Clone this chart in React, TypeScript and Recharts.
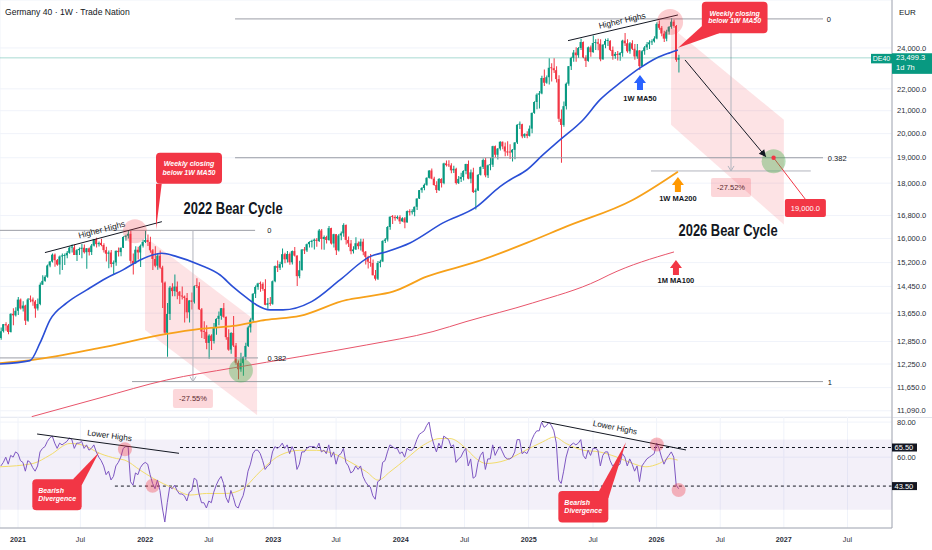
import React from "react";
import {
  Area,
  Bar,
  CartesianGrid,
  Cell,
  ComposedChart,
  Line,
  ReferenceArea,
  ReferenceDot,
  ReferenceLine,
  XAxis,
  YAxis,
} from "recharts";

const W = 932;
const PRICE_H = 417;
const RSI_H = 133;
const FONT = '"Liberation Sans", Arial, sans-serif';
const GREEN = "#089981";
const RED = "#f23645";
const AXIS_TEXT = "#2a2e39";
const AXIS_LINE = "#a3a6af";
const GRID = "#f0f3fa";
const FIB = "#9b9ea6";

// x is a week index: 0 = first week of January 2021
const FIRST_WEEK = -7;
const X_DOMAIN: [number, number] = [-7.36, 357.2];

const timeTicks = [0, 25.5, 52, 78, 104.3, 130, 156.4, 182.5, 208.7, 235, 261, 287, 313, 339];
const timeLabels = ["2021", "Jul", "2022", "Jul", "2023", "Jul", "2024", "Jul", "2025", "Jul", "2026", "Jul", "2027", "Jul"];

const priceTicks = [24000, 22000, 21000, 20000, 19000, 18000, 16800, 16000, 15200, 14450, 13650, 12850, 12250, 11650, 11090];
const rsiTicks = [60, 80];
const lastPrice = 23499.3;

// weekly candles [open, high, low, close]
const candles: [number, number, number, number][] = [
  // 2020
  [12950, 13240, 12900, 13137], [13137, 13340, 13100, 13335], [13335, 13390, 13150, 13299], [13299, 13340, 13050, 13114],
  [13114, 13650, 13100, 13631], [13631, 13790, 13300, 13587], [13587, 13820, 13550, 13719],
  // 2021
  [13719, 14130, 13600, 14050], [14050, 14080, 13760, 13788], [13788, 14000, 13700, 13873], [13873, 13900, 13310, 13433],
  [13433, 14100, 13400, 14056], [14056, 14170, 13970, 14050], [14050, 14110, 13870, 13993], [13993, 14040, 13520, 13786],
  [13786, 14080, 13730, 13920], [13920, 14570, 13880, 14502], [14502, 14800, 14500, 14621], [14621, 14800, 14590, 14749],
  [14749, 15140, 14720, 15107], [15107, 15250, 15050, 15234], [15234, 15500, 15200, 15460], [15460, 15500, 15070, 15280],
  [15280, 15320, 15100, 15136], [15136, 15430, 14820, 15400], [15400, 15500, 14960, 15417], [15417, 15500, 15120, 15437],
  [15437, 15580, 15340, 15520], [15520, 15730, 15490, 15693], [15693, 15800, 15530, 15700], [15700, 15800, 15450, 15448],
  [15448, 15650, 15250, 15608], [15608, 15700, 15450, 15650], [15650, 15810, 15340, 15689], [15689, 15800, 15500, 15540],
  [15540, 15680, 15000, 15670], [15670, 15700, 15430, 15544], [15544, 15810, 15450, 15761], [15761, 15980, 15730, 15977],
  [15977, 16030, 15700, 15808], [15808, 15900, 15730, 15852], [15852, 15990, 15740, 15781], [15781, 15840, 15530, 15609],
  [15609, 15720, 15240, 15490], [15490, 15600, 15020, 15531], [15531, 15610, 15050, 15156], [15156, 15270, 14820, 15206],
  [15206, 15600, 15100, 15587], [15587, 15700, 15400, 15543], [15543, 15700, 15410, 15688], [15688, 16080, 15680, 16054],
  [16054, 16130, 15920, 16094], [16094, 16290, 16000, 16160], [16160, 16260, 15160, 15257], [15257, 15500, 14820, 15170],
  [15170, 15740, 15170, 15623], [15623, 15720, 15300, 15532], [15532, 15800, 15060, 15756], [15756, 15960, 15700, 15885],
  // 2022
  [15885, 16285, 15850, 15947], [15947, 16140, 15750, 15883], [15883, 16060, 15520, 15603], [15603, 15650, 14960, 15318],
  [15318, 15740, 15050, 15100], [15100, 15500, 14970, 15425], [15425, 15600, 15000, 15042], [15042, 15100, 13800, 14567],
  [14567, 14600, 13030, 13094], [13094, 13950, 12440, 13628], [13628, 14460, 13450, 14413], [14413, 14550, 14150, 14306],
  [14306, 14820, 14150, 14446], [14446, 14600, 14060, 14284], [14284, 14310, 13920, 14164], [14164, 14450, 14050, 14142],
  [14142, 14170, 13380, 14098], [14098, 14250, 13500, 13674], [13674, 14030, 13380, 14027], [14027, 14260, 13760, 13982],
  [13982, 14480, 13930, 14462], [14462, 14700, 14400, 14460], [14460, 14580, 13740, 13762], [13762, 13800, 12950, 13126],
  [13126, 13420, 12920, 13118], [13118, 13300, 12640, 12813], [12813, 13050, 12390, 13015], [13015, 13050, 12620, 12865],
  [12865, 13370, 12800, 13254], [13254, 13500, 13040, 13484], [13484, 13700, 13300, 13574], [13574, 13800, 13460, 13795],
  [13795, 13950, 13520, 13544], [13544, 13550, 12900, 12971], [12971, 13190, 12600, 12630], [12630, 13110, 12520, 13088],
  [13088, 13570, 12700, 12741], [12741, 12810, 12230, 12284], [12284, 12340, 11860, 12114], [12114, 12550, 12050, 12273],
  [12273, 12450, 11950, 12438], [12438, 12820, 12360, 12731], [12731, 13290, 12700, 13243], [13243, 13500, 13100, 13460],
  [13460, 14250, 13380, 14225], [14225, 14480, 14100, 14431], [14431, 14560, 14350, 14541], [14541, 14600, 14290, 14529],
  [14529, 14580, 14320, 14371], [14371, 14670, 13880, 13894], [13894, 14100, 13780, 13941], [13941, 14130, 13870, 13924],
  // 2023
  [13924, 14630, 13900, 14610], [14610, 15110, 14580, 15087], [15087, 15270, 14900, 15033], [15033, 15230, 14960, 15150],
  [15150, 15660, 15040, 15476], [15476, 15520, 15180, 15307], [15307, 15580, 15200, 15482], [15482, 15530, 15130, 15210],
  [15210, 15600, 15140, 15578], [15578, 15710, 15400, 15428], [15428, 15440, 14460, 14768], [14768, 15260, 14700, 14957],
  [14957, 15650, 14950, 15629], [15629, 15710, 15480, 15598], [15598, 15830, 15550, 15808], [15808, 15910, 15700, 15882],
  [15882, 15960, 15700, 15922], [15922, 16000, 15630, 15961], [15961, 16020, 15720, 15914], [15914, 16330, 15880, 16275],
  [16275, 16330, 15630, 15984], [15984, 16100, 15620, 16051], [16051, 16090, 15830, 15949], [15949, 16430, 15920, 16358],
  [16358, 16370, 15800, 15830], [15830, 16160, 15700, 16148], [16148, 16150, 15450, 15603], [15603, 16150, 15560, 16105],
  [16105, 16240, 15940, 16177], [16177, 16530, 16060, 16469], [16469, 16480, 15800, 15952], [15952, 16070, 15710, 15832],
  [15832, 15950, 15470, 15574], [15574, 15740, 15500, 15632], [15632, 16040, 15610, 15840], [15840, 15900, 15640, 15740],
  [15740, 15990, 15600, 15894], [15894, 15990, 15440, 15557], [15557, 15580, 15140, 15387], [15387, 15420, 15010, 15229],
  [15229, 15480, 15070, 15187], [15187, 15300, 14790, 14798], [14798, 14960, 14630, 14687], [14687, 15250, 14650, 15189],
  [15189, 15290, 15050, 15234], [15234, 15940, 15230, 15919], [15919, 16020, 15850, 15967], [15967, 16430, 15900, 16397],
  [16397, 16780, 16300, 16759], [16759, 16820, 16500, 16751], [16751, 16810, 16620, 16706], [16706, 16800, 16670, 16752],
  // 2024
  [16752, 16810, 16500, 16594], [16594, 16740, 16580, 16704], [16704, 16750, 16350, 16555], [16555, 16980, 16550, 16961],
  [16961, 17030, 16800, 16918], [16918, 17030, 16840, 16926], [16926, 17130, 16780, 17117], [17117, 17430, 17000, 17419],
  [17419, 17740, 17400, 17735], [17735, 17850, 17640, 17815], [17815, 17990, 17730, 17936], [17936, 18230, 17900, 18206],
  [18206, 18500, 18180, 18492], [18492, 18570, 18150, 18175], [18175, 18250, 17900, 17930], [17930, 18070, 17630, 17737],
  [17737, 18200, 17700, 18161], [18161, 18190, 17830, 18001], [18001, 18800, 17960, 18773], [18773, 18890, 18650, 18704],
  [18704, 18900, 18630, 18693], [18693, 18780, 18380, 18498], [18498, 18680, 18390, 18557], [18557, 18600, 17950, 18002],
  [18002, 18280, 17970, 18164], [18164, 18400, 18040, 18235], [18235, 18500, 18100, 18475], [18475, 18760, 18340, 18748],
  [18748, 18890, 18150, 18172], [18172, 18530, 18000, 18418], [18418, 18600, 17630, 17661], [17661, 17800, 17020, 17723],
  [17723, 18350, 17700, 18322], [18322, 18650, 18300, 18633], [18633, 18970, 18550, 18907], [18907, 18990, 18230, 18302],
  [18302, 18730, 18200, 18699], [18699, 19000, 18500, 18720], [18720, 19490, 18630, 19474], [19474, 19500, 19020, 19121],
  [19121, 19400, 18930, 19374], [19374, 19680, 19300, 19657], [19657, 19670, 19350, 19464], [19464, 19630, 19060, 19255],
  [19255, 19680, 19080, 19216], [19216, 19550, 18950, 19211], [19211, 19360, 18850, 19323], [19323, 19650, 18940, 19626],
  [19626, 20400, 19560, 20384], [20384, 20520, 20200, 20405], [20405, 20430, 19800, 19884], [19884, 20020, 19810, 19985],
  [19985, 20100, 19800, 19906],
  // 2025
  [19906, 20350, 19880, 20214], [20214, 20920, 20020, 20903], [20903, 21430, 20870, 21394], [21394, 21800, 21070, 21732],
  [21732, 21900, 21100, 21787], [21787, 22620, 21750, 22514], [22514, 22930, 22130, 22287], [22287, 22630, 22240, 22551],
  [22551, 23480, 22200, 23009], [23009, 23230, 22350, 22987], [22987, 23480, 22760, 22892], [22892, 23080, 22300, 22461],
  [22461, 22650, 20500, 20642], [20642, 21050, 18800, 20374], [20374, 21420, 20300, 21205], [21205, 22300, 21050, 22242],
  [22242, 23100, 22150, 23087], [23087, 23550, 22900, 23499], [23499, 23900, 23300, 23767], [23767, 24030, 23300, 23630],
  [23630, 24050, 23500, 23997], [23997, 24480, 23900, 24304], [24304, 24330, 23480, 23516], [23516, 23630, 23050, 23350],
  [23350, 24080, 23300, 24033], [24033, 24130, 23550, 23787], [23787, 24640, 23750, 24255], [24255, 24450, 23900, 24290],
  [24290, 24480, 23880, 24217], [24217, 24450, 23330, 23426], [23426, 24200, 23400, 24163], [24163, 24470, 23980, 24359],
  [24359, 24500, 24100, 24363], [24363, 24400, 23850, 23902], [23902, 24070, 23400, 23597], [23597, 23800, 23450, 23698],
  [23698, 23850, 23370, 23639], [23639, 23800, 23350, 23739], [23739, 24420, 23550, 24378], [24378, 24770, 24100, 24241],
  [24241, 24450, 23750, 23830], [23830, 24300, 23700, 24240], [24240, 24400, 23900, 23958], [23958, 24200, 23400, 23569],
  [23569, 24200, 23450, 23876], [23876, 23900, 22900, 23091], [23091, 23900, 23050, 23836], [23836, 24100, 23650, 24028],
  [24028, 24300, 23900, 24186], [24186, 24400, 23950, 24288], [24288, 24450, 24150, 24340], [24340, 24600, 24280, 24490],
  // 2026
  [24490, 25350, 24450, 25260], [25260, 25450, 24950, 25050], [25050, 25150, 24600, 24750], [24750, 24900, 24300, 24480],
  [24480, 24950, 24350, 24850], [24850, 25150, 24700, 25100], [25100, 25580, 25000, 25380], [25380, 25500, 25050, 25150],
  [25150, 25200, 23300, 23400], [23400, 23650, 22780, 23499.3],
];

// weekly RSI, same weeks as the candles
const rsiValues = [
  55, 57, 60, 56, 61, 60, 63,
  62, 58, 57, 52, 58, 57, 54, 52, 55, 63,
  65, 66, 69, 71, 72, 68, 65, 68, 67, 68,
  69, 71, 70, 65, 68, 68, 69, 65, 67, 64,
  65, 67, 63, 60, 58, 55, 50, 52, 47, 49,
  55, 57, 60, 65, 66, 66, 46, 44, 51, 50,
  54, 56, 57, 56, 50, 45, 42, 47, 41, 31,
  23, 34, 43, 42, 44, 41, 39, 39, 38, 35,
  40, 41, 48, 47, 39, 34, 34, 31, 35, 34,
  40, 44, 47, 49, 45, 37, 34, 41, 37, 32,
  31, 35, 38, 44, 52, 56, 62, 64, 64, 62,
  58, 53, 55, 56, 63, 66, 65, 66, 68, 65,
  67, 62, 66, 63, 53, 56, 63, 63, 65, 66,
  66, 66, 65, 68, 63, 64, 62, 67, 60, 63,
  56, 61, 62, 65, 57, 55, 51, 52, 55, 53,
  55, 49, 46, 44, 43, 38, 36, 46, 47, 57,
  58, 63, 67, 66, 65, 65, 62, 63, 60, 65,
  64, 64, 66, 70, 73, 74, 75, 78, 80, 72,
  67, 63, 68, 65, 72, 71, 70, 66, 67, 57,
  59, 60, 63, 65, 55, 59, 48, 49, 57, 61,
  63, 53, 59, 59, 67, 61, 64, 66, 63, 60,
  59, 59, 60, 63, 70, 70, 62, 63, 62, 65,
  70, 73, 75, 75, 80, 77, 78, 80, 78, 75,
  68, 47, 45, 52, 60, 65, 67, 68, 67, 68,
  70, 61, 59, 64, 61, 65, 65, 64, 55, 61,
  63, 63, 58, 55, 56, 55, 56, 62, 60, 55,
  59, 56, 52, 55, 46, 55, 57, 59, 60, 61,
  62, 68, 65, 60, 56, 59, 61, 63, 60, 44,
  42,
];

// moving averages as [week, value]
const ma50Points: [number, number][] = [
  [-7.36, 12252], [4.9, 12339], [9, 12811], [13.1, 13455], [19.9, 13949], [28.1, 14342], [36.2, 14712],
  [42.9, 14966], [49.9, 15285], [56.7, 15482], [58.7, 15505], [64.9, 15395], [74.4, 15125], [82.6, 14805],
  [87.9, 14434], [93.5, 14100], [97.5, 13891], [103, 13745], [108.3, 13745], [120, 13990], [131.6, 14650],
  [143.8, 15395], [150.7, 15559], [160.2, 15850], [173.7, 16541], [187.5, 17124], [197, 17868], [201, 18122],
  [207.9, 18511], [214.5, 19114], [221.5, 19735], [230.9, 20592], [237.8, 21487], [246, 22277], [254.2, 23000],
  [261, 23494], [266.5, 23760], [269.7, 23898],
];
const ma200Points: [number, number][] = [
  [-7.36, 12272], [6.1, 12358], [33.5, 12677], [60.8, 13061], [74.4, 13200], [87.9, 13284], [101.3, 13455],
  [115.2, 13570], [134.4, 14040], [142.5, 14139], [153.2, 14290], [167, 14753], [187.5, 15230], [207.9, 15850],
  [224, 16409], [251.2, 17369], [269.7, 18446],
];
const ma100mPoints: [number, number][] = [
  [5.6, 10952], [33.5, 11398], [60.8, 11842], [87.9, 12149], [115.2, 12444], [142.5, 12758], [169.6, 13126],
  [183.1, 13406], [210.3, 13949], [237.4, 14650], [241.5, 14806], [268.1, 15549],
];
const rsiMaPoints: [number, number][] = [
  [-7.36, 54.5], [6.1, 56.4], [13, 61.1], [21.3, 67.8], [26.6, 66.8], [33.5, 62.1], [40.3, 59.2], [43.7, 58.3],
  [49.9, 52.6], [55.3, 47.9], [63.5, 42.2], [70.3, 38.4], [77.1, 39.3], [85.3, 39.3], [92.1, 42.2], [97.5, 49.7],
  [101.6, 55.4], [107.1, 61.1], [115.2, 63.9], [122, 63.9], [128.7, 62.1], [135.7, 57.3], [142.5, 51.6],
  [147.2, 46.9], [152, 51.6], [158.8, 59.2], [165.6, 66.8], [172.5, 70.6], [176.5, 70.6], [183.1, 64.9],
  [187.2, 59.2], [191.3, 56.4], [199.4, 58.3], [206.2, 63], [214.4, 68.7], [219.2, 71.5], [224, 67.8],
  [230.8, 64], [237.6, 63], [244.4, 60.2], [251.2, 56.4], [256.6, 54.5], [262.1, 56.4], [266.2, 59.2], [269.6, 58.3],
];

// bear-cycle channels: [week, lower, upper]
const channel2022: [number, number, number][] = [[51.9, 13170, 16060], [97.7, 10990, 13400]];
const channel2026: [number, number, number][] = [[266.9, 20380, 25100], [313, 16480, 20600]];

const priceData = candles.map(([o, h, l, c], i) => ({
  w: i + FIRST_WEEK,
  o,
  c,
  wick: [l, h],
  body: [Math.min(o, c), Math.max(o, c)],
}));
const rsiData = rsiValues.map((v, i) => ({ w: i + FIRST_WEEK, rsi: v }));
const toLine = (pts: [number, number][]) => pts.map(([w, v]) => ({ w, v }));
const toBand = (pts: [number, number, number][]) => pts.map(([w, lo, hi]) => ({ w, band: [lo, hi] }));

const fmtPrice = (v: number) => v.toLocaleString("en-US", { minimumFractionDigits: 1, maximumFractionDigits: 1 });

type Shape = (p: any) => React.ReactElement;

const label = (text: string, opts: { size?: number; weight?: number; anchor?: string; dy?: number; color?: string } = {}): Shape =>
  (p) => (
    <text x={p.cx} y={p.cy + (opts.dy ?? 3)} textAnchor={opts.anchor ?? "middle"} fontSize={opts.size ?? 7.5}
      fontWeight={opts.weight ?? 400} fill={opts.color ?? "#131722"} fontFamily={FONT}>{text}</text>
  );

const tiltedText = (text: string, angle: number, size: number): Shape => (p) => (
  <text x={p.cx} y={p.cy} transform={`rotate(${angle} ${p.cx} ${p.cy})`} textAnchor="middle"
    dominantBaseline="central" fontSize={size} fill="#131722" fontFamily={FONT}>{text}</text>
);

const bigTitle = (text: string): Shape => (p) => (
  <text x={p.cx} y={p.cy} textAnchor="middle" dominantBaseline="central" fontSize={16} fontWeight={700}
    textLength={99} lengthAdjust="spacingAndGlyphs" fill="#131722" fontFamily={FONT}>{text}</text>
);

const upArrow = (color: string, text: string, textDy: number): Shape => (p) => {
  const pts = [[0, 0], [6, 8], [3, 8], [3, 15], [-3, 15], [-3, 8], [-6, 8]]
    .map(([dx, dy]) => `${p.cx + dx},${p.cy + dy}`).join(" ");
  return (
    <g>
      <polygon points={pts} fill={color} />
      <text x={p.cx} y={p.cy + textDy} textAnchor="middle" fontSize={7.5} fontWeight={700} fill="#131722"
        fontFamily={FONT}>{text}</text>
    </g>
  );
};

const downHead = (color: string): Shape => (p) => (
  <polyline points={`${p.cx - 3},${p.cy - 5} ${p.cx},${p.cy} ${p.cx + 3},${p.cy - 5}`} fill="none" stroke={color} strokeWidth={1} />
);

const arrowHead = (angle: number): Shape => (p) => (
  <g transform={`translate(${p.cx},${p.cy}) rotate(${angle})`}>
    <polygon points="-7,-3.5 0,0 -7,3.5" fill="#131722" />
  </g>
);

const pctBox = (text: string): Shape => (p) => (
  <g>
    <rect x={p.cx - 20} y={p.cy - 9.5} width={40} height={19} rx={2} fill={RED} fillOpacity={0.2} />
    <text x={p.cx} y={p.cy + 2.7} textAnchor="middle" fontSize={7.5} fill="#5d2a2e" fontFamily={FONT}>{text}</text>
  </g>
);

const targetBox = (text: string): Shape => (p) => (
  <g>
    <rect x={p.cx - 20.5} y={p.cy - 9} width={41} height={18} rx={2} fill={RED} />
    <text x={p.cx} y={p.cy + 2.7} textAnchor="middle" fontSize={7.5} fill="#fff" fontFamily={FONT}>{text}</text>
  </g>
);

type Callout = {
  box: [number, number, number, number];
  tail: [number, number][];
  lines: string[];
  textX: number;
  textY: number[];
  anchor: "middle" | "start";
};

const callout = (c: Callout): Shape => (p) => {
  const pts = c.tail.map(([dx, dy]) => `${p.cx + dx},${p.cy + dy}`).join(" ");
  const [bx, by, bw, bh] = c.box;
  return (
    <g>
      <polygon points={pts} fill={RED} />
      <rect x={p.cx + bx} y={p.cy + by} width={bw} height={bh} rx={4} fill={RED} />
      {c.lines.map((t, i) => (
        <text key={t} x={p.cx + c.textX} y={p.cy + c.textY[i]} textAnchor={c.anchor} fontSize={7}
          fontWeight={700} fontStyle="italic" fill="#fff" fontFamily={FONT}>{t}</text>
      ))}
    </g>
  );
};

const closingBelow2022: Callout = {
  box: [0, -77, 66, 31], tail: [[0, 0], [0, -46], [5.7, -46]],
  lines: ["Weekly closing", "below 1W MA50"], textX: 33, textY: [-63.3, -54.6], anchor: "middle",
};
const closingBelow2026: Callout = {
  box: [23.7, -46, 65.7, 31.6], tail: [[0, 0], [25, -22.7], [41, -14.4]],
  lines: ["Weekly closing", "below 1W MA50"], textX: 56.5, textY: [-31.7, -24.3], anchor: "middle",
};
const divergence2021: Callout = {
  box: [-66.7, 27, 49.4, 31], tail: [[0, 0], [-26, 27], [-17.3, 33]],
  lines: ["Bearish", "Divergence"], textX: -60.7, textY: [40.7, 49], anchor: "start",
};
const divergence2025: Callout = {
  box: [-67.7, 48.7, 50, 31.6], tail: [[0, 0], [-27, 48.7], [-17.7, 56]],
  lines: ["Bearish", "Divergence"], textX: -61.7, textY: [62.7, 70.7], anchor: "start",
};

const lastPriceTag: Shape = (p) => (
  <g fontFamily={FONT}>
    <line x1={p.cx - 892} y1={p.cy} x2={p.cx} y2={p.cy} stroke={GREEN} strokeOpacity={0.35} strokeWidth={1} />
    <rect x={p.cx - 21} y={p.cy - 4} width={21} height={9.5} fill={GREEN} />
    <text x={p.cx - 10.5} y={p.cy + 3.3} textAnchor="middle" fontSize={7} fill="#fff">DE40</text>
    <rect x={p.cx} y={p.cy - 4.6} width={40} height={20.6} fill={GREEN} />
    <text x={p.cx + 4} y={p.cy + 2.6} fontSize={7.5} fill="#fff">{fmtPrice(lastPrice)}</text>
    <text x={p.cx + 4} y={p.cy + 12.4} fontSize={7.5} fill="#fff">1d 7h</text>
  </g>
);

const rsiLevelTag = (text: string): Shape => (p) => (
  <g fontFamily={FONT}>
    <rect x={p.cx} y={p.cy - 4} width={25} height={8} fill="#131722" />
    <text x={p.cx + 2.5} y={p.cy + 2.7} fontSize={7.5} fill="#fff">{text}</text>
  </g>
);

const TimeTick = (props: any) => {
  const { x, y, payload } = props;
  const i = timeTicks.indexOf(payload.value);
  const text = timeLabels[i] ?? "";
  const isYear = text !== "Jul";
  return (
    <text x={x} y={y + 13.6} textAnchor="middle" fontSize={7.2} fontWeight={isYear ? 700 : 400}
      fill={AXIS_TEXT} fontFamily={FONT}>{text}</text>
  );
};

function PriceChart() {
  return (
    <ComposedChart width={W} height={PRICE_H} data={priceData} margin={{ top: 0, right: 0, bottom: 0, left: 0 }}>
      <CartesianGrid stroke={GRID} />
      <XAxis dataKey="w" type="number" domain={X_DOMAIN} allowDataOverflow ticks={timeTicks} height={0}
        tick={false} axisLine={false} tickLine={false} />
      <XAxis xAxisId="wick" dataKey="w" type="number" domain={X_DOMAIN} allowDataOverflow hide />
      <XAxis xAxisId="aux" dataKey="w" type="number" domain={X_DOMAIN} allowDataOverflow hide />
      <YAxis orientation="right" scale="log" domain={[10944, 26578]} allowDataOverflow ticks={priceTicks}
        interval={0} width={40} tickFormatter={fmtPrice} tickLine={false} tickSize={0} tickMargin={5}
        tick={{ fontSize: 7.5, fill: AXIS_TEXT, fontFamily: FONT }} axisLine={{ stroke: AXIS_LINE }} />

      <Area xAxisId="aux" data={toBand(channel2022)} dataKey="band" type="linear" stroke="none" fill={RED}
        fillOpacity={0.14} dot={false} activeDot={false} isAnimationActive={false} />
      <Area xAxisId="aux" data={toBand(channel2026)} dataKey="band" type="linear" stroke="none" fill={RED}
        fillOpacity={0.14} dot={false} activeDot={false} isAnimationActive={false} />

      {/* fibonacci levels */}
      <ReferenceLine segment={[{ x: -7.36, y: 16280 }, { x: 96.9, y: 16280 }]} stroke={FIB} />
      <ReferenceLine segment={[{ x: -7.36, y: 12410 }, { x: 98.1, y: 12410 }]} stroke={FIB} />
      <ReferenceLine segment={[{ x: 88.7, y: 25530 }, { x: 329, y: 25530 }]} stroke={FIB} />
      <ReferenceLine segment={[{ x: 88.7, y: 19000 }, { x: 329, y: 19000 }]} stroke={FIB} />
      <ReferenceLine segment={[{ x: 46.6, y: 11800 }, { x: 329, y: 11800 }]} stroke={FIB} />
      <ReferenceDot x={102.7} y={16280} r={0} shape={label("0")} ifOverflow="visible" />
      <ReferenceDot x={105.8} y={12410} r={0} shape={label("0.382")} ifOverflow="visible" />
      <ReferenceDot x={331.4} y={25530} r={0} shape={label("0")} ifOverflow="visible" />
      <ReferenceDot x={334.8} y={19000} r={0} shape={label("0.382")} ifOverflow="visible" />
      <ReferenceDot x={331.8} y={11800} r={0} shape={label("1")} ifOverflow="visible" />

      {/* measured drops */}
      <ReferenceLine segment={[{ x: 71.5, y: 16280 }, { x: 71.5, y: 11800 }]} stroke="#b2b5be" />
      <ReferenceDot x={71.5} y={11800} r={0} shape={downHead("#b2b5be")} ifOverflow="visible" />
      <ReferenceLine segment={[{ x: 291.4, y: 25530 }, { x: 291.4, y: 18473 }]} stroke="#b2b5be" />
      <ReferenceLine segment={[{ x: 258.7, y: 18473 }, { x: 324, y: 18473 }]} stroke="#b2b5be" />
      <ReferenceDot x={291.4} y={18473} r={0} shape={downHead("#b2b5be")} ifOverflow="visible" />

      <ReferenceDot x={47.8} y={16250} r={12} fill={RED} fillOpacity={0.25} stroke="none" />
      <ReferenceDot x={266.5} y={25366} r={13} fill={RED} fillOpacity={0.25} stroke="none" />
      <ReferenceDot x={91.1} y={12080} r={12} fill="#4caf50" fillOpacity={0.4} stroke="none" />
      <ReferenceDot x={308.8} y={18859} r={12} fill="#4caf50" fillOpacity={0.4} stroke="none" />

      <Line xAxisId="aux" data={toLine(ma100mPoints)} dataKey="v" type="monotone" stroke="#e8556b" strokeWidth={1}
        dot={false} activeDot={false} isAnimationActive={false} />
      <Line xAxisId="aux" data={toLine(ma200Points)} dataKey="v" type="monotone" stroke="#f7a11a" strokeWidth={1.8}
        dot={false} activeDot={false} isAnimationActive={false} />
      <Line xAxisId="aux" data={toLine(ma50Points)} dataKey="v" type="monotone" stroke="#2a4fd6" strokeWidth={1.6}
        dot={false} activeDot={false} isAnimationActive={false} />

      <Bar xAxisId="wick" dataKey="wick" barSize={1} activeBar={false} isAnimationActive={false}>
        {priceData.map((d) => <Cell key={d.w} fill={d.c >= d.o ? GREEN : RED} />)}
      </Bar>
      <Bar dataKey="body" barSize={2} minPointSize={1} activeBar={false} isAnimationActive={false}>
        {priceData.map((d) => <Cell key={d.w} fill={d.c >= d.o ? GREEN : RED} />)}
      </Bar>

      <ReferenceLine segment={[{ x: 11, y: 15528 }, { x: 58.8, y: 16584 }]} stroke="#131722" />
      <ReferenceLine segment={[{ x: 224.8, y: 24376 }, { x: 269.7, y: 25745 }]} stroke="#131722" />
      <ReferenceDot x={34.2} y={16310} r={0} shape={tiltedText("Higher Highs", -14.8, 8.3)} ifOverflow="visible" />
      <ReferenceDot x={246.9} y={25447} r={0} shape={tiltedText("Higher Highs", -13, 8.3)} ifOverflow="visible" />

      <ReferenceLine segment={[{ x: 272.6, y: 23395 }, { x: 305.7, y: 19032 }]} stroke="#131722" />
      <ReferenceDot x={305.7} y={19032} r={0} shape={arrowHead(50)} ifOverflow="visible" />
      <ReferenceLine segment={[{ x: 308.8, y: 19000 }, { x: 322, y: 17369 }]} stroke={RED} />
      <ReferenceDot x={308.8} y={19000} r={2.2} fill={RED} stroke="none" />

      <ReferenceDot x={71.5} y={11386} r={0} shape={pctBox("-27.55%")} ifOverflow="visible" />
      <ReferenceDot x={291.4} y={17838} r={0} shape={pctBox("-27.52%")} ifOverflow="visible" />
      <ReferenceDot x={321.8} y={17077} r={0} shape={targetBox("19,000.0")} ifOverflow="visible" />

      <ReferenceDot x={87.9} y={17040} r={0} shape={bigTitle("2022 Bear Cycle")} ifOverflow="visible" />
      <ReferenceDot x={290.2} y={16260} r={0} shape={bigTitle("2026 Bear Cycle")} ifOverflow="visible" />

      <ReferenceDot x={254.2} y={22661} r={0} shape={upArrow("#2962ff", "1W MA50", 25.7)} ifOverflow="visible" />
      <ReferenceDot x={269.7} y={18241} r={0} shape={upArrow("#ff9800", "1W MA200", 23.7)} ifOverflow="visible" />
      <ReferenceDot x={268.9} y={15288} r={0} shape={upArrow(RED, "1M MA100", 22.7)} ifOverflow="visible" />

      <ReferenceDot x={56.4} y={16300} r={0} shape={callout(closingBelow2022)} ifOverflow="visible" />
      <ReferenceDot x={269.8} y={24015} r={0} shape={callout(closingBelow2026)} ifOverflow="visible" />

      <ReferenceDot x={357.2} y={lastPrice} r={0} shape={lastPriceTag} ifOverflow="visible" />
    </ComposedChart>
  );
}

function RsiChart() {
  return (
    <ComposedChart width={W} height={RSI_H} data={rsiData} margin={{ top: 0, right: 0, bottom: 0, left: 0 }}>
      <CartesianGrid stroke={GRID} />
      <ReferenceArea y1={30} y2={70} fill="#7e57c2" fillOpacity={0.09} stroke="none" />
      <XAxis dataKey="w" type="number" domain={X_DOMAIN} allowDataOverflow ticks={timeTicks} interval={0}
        height={22} tick={(p: any) => <TimeTick {...p} />} tickLine={false} tickSize={0} tickMargin={0}
        axisLine={{ stroke: AXIS_LINE }} />
      <XAxis xAxisId="aux" dataKey="w" type="number" domain={X_DOMAIN} allowDataOverflow hide />
      <YAxis orientation="right" domain={[19.6, 82.9]} allowDataOverflow ticks={rsiTicks} interval={0} width={40}
        tickFormatter={(v: number) => v.toFixed(2)} tickLine={false} tickSize={0} tickMargin={5}
        tick={{ fontSize: 7.5, fill: AXIS_TEXT, fontFamily: FONT }} axisLine={{ stroke: AXIS_LINE }} />

      <ReferenceLine segment={[{ x: 66.2, y: 65.5 }, { x: 357.2, y: 65.5 }]} stroke="#131722" strokeDasharray="3 3" />
      <ReferenceLine segment={[{ x: 39.6, y: 43.5 }, { x: 357.2, y: 43.5 }]} stroke="#131722" strokeDasharray="3 3" />

      <Line xAxisId="aux" data={toLine(rsiMaPoints)} dataKey="v" type="monotone" stroke="#f2dc6b" strokeWidth={1}
        dot={false} activeDot={false} isAnimationActive={false} />
      <Line dataKey="rsi" type="linear" stroke="#7e57c2" strokeWidth={1} dot={false} activeDot={false}
        isAnimationActive={false} />

      <ReferenceDot x={43.7} y={64.5} r={7} fill={RED} fillOpacity={0.35} stroke="none" />
      <ReferenceDot x={55} y={43.7} r={7} fill={RED} fillOpacity={0.35} stroke="none" />
      <ReferenceDot x={261.1} y={67.2} r={7} fill={RED} fillOpacity={0.35} stroke="none" />
      <ReferenceDot x={270} y={41.2} r={7} fill={RED} fillOpacity={0.35} stroke="none" />

      <ReferenceLine segment={[{ x: 7.8, y: 73.2 }, { x: 65.8, y: 62.2 }]} stroke="#131722" />
      <ReferenceLine segment={[{ x: 214.1, y: 80.4 }, { x: 273, y: 64.1 }]} stroke="#131722" />
      <ReferenceDot x={37.4} y={72.2} r={0} shape={tiltedText("Lower Highs", 7.7, 8.1)} ifOverflow="visible" />
      <ReferenceDot x={244} y={76.8} r={0} shape={tiltedText("Lower Highs", 11.3, 8.1)} ifOverflow="visible" />

      <ReferenceDot x={33.1} y={62.8} r={0} shape={callout(divergence2021)} ifOverflow="visible" />
      <ReferenceDot x={248.5} y={68.5} r={0} shape={callout(divergence2025)} ifOverflow="visible" />

      <ReferenceDot x={357.2} y={65.5} r={0} shape={rsiLevelTag("65.50")} ifOverflow="visible" />
      <ReferenceDot x={357.2} y={43.5} r={0} shape={rsiLevelTag("43.50")} ifOverflow="visible" />
    </ComposedChart>
  );
}

export default function App() {
  return (
    <div style={{ position: "absolute", left: 0, top: 0, width: W, height: 550, background: "#fff", overflow: "hidden", fontFamily: FONT }}>
      <div style={{ position: "absolute", left: 0, top: 0 }}>
        <PriceChart />
      </div>
      <div style={{ position: "absolute", left: 0, top: PRICE_H, width: W, height: 1, background: "#e0e3eb" }} />
      <div style={{ position: "absolute", left: 0, top: PRICE_H }}>
        <RsiChart />
      </div>
      <div style={{ position: "absolute", left: 5, top: 7, fontSize: 8.6, color: "#131722", whiteSpace: "nowrap" }}>
        Germany 40 · 1W · Trade Nation
      </div>
      <div style={{ position: "absolute", left: 899, top: 8, fontSize: 8, color: "#131722" }}>EUR</div>
    </div>
  );
}
